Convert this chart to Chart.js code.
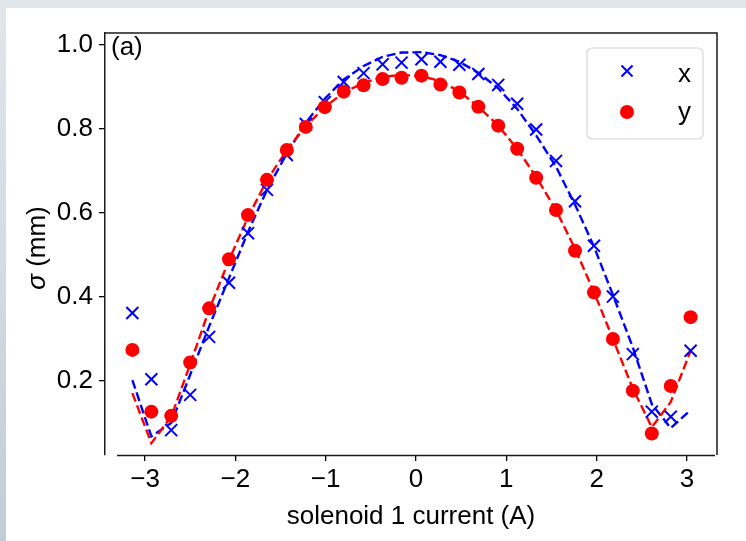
<!DOCTYPE html>
<html>
<head>
<meta charset="utf-8">
<script src="https://cdn.jsdelivr.net/npm/chart.js@4.4.1/dist/chart.umd.min.js"></script>
<style>
  html, body { margin: 0; padding: 0; width: 746px; height: 541px; overflow: hidden; }
  body { background: linear-gradient(to bottom, #e0e6ea 0%, #d3dbe1 50%, #c2cdd6 100%); }
  #panel { position: absolute; left: 6px; top: 8px; width: 740px; height: 533px; background: #ffffff; }
  canvas { display: block; }
</style>
</head>
<body>
<div id="panel"><canvas id="chart" width="740" height="533"></canvas></div>
<script>
// Solenoid 1 current scan (A)
const current = [-3.14, -2.93, -2.71, -2.50, -2.29, -2.07, -1.86, -1.65, -1.43, -1.22,
                 -1.01, -0.80, -0.58, -0.37, -0.16, 0.06, 0.27, 0.48, 0.69, 0.91,
                 1.12, 1.33, 1.55, 1.76, 1.97, 2.18, 2.40, 2.61, 2.82, 3.04];

// Measured beam size (mm)
const sigmaX = [0.362, 0.204, 0.083, 0.167, 0.305, 0.434, 0.552, 0.655, 0.738, 0.812,
                0.864, 0.912, 0.933, 0.954, 0.958, 0.966, 0.960, 0.953, 0.931, 0.905,
                0.860, 0.799, 0.724, 0.628, 0.522, 0.401, 0.264, 0.127, 0.115, 0.272];
const sigmaY = [0.274, 0.127, 0.117, 0.244, 0.373, 0.490, 0.595, 0.679, 0.750, 0.805,
                0.852, 0.889, 0.904, 0.919, 0.922, 0.927, 0.906, 0.887, 0.853, 0.808,
                0.753, 0.684, 0.607, 0.510, 0.411, 0.300, 0.177, 0.075, 0.188, 0.352];

// Model prediction at each current setting (mm)
const fitX = [0.202, 0.068, 0.100, 0.215, 0.330, 0.445, 0.555, 0.655, 0.742, 0.815,
              0.872, 0.918, 0.950, 0.972, 0.982, 0.983, 0.976, 0.960, 0.934, 0.897,
              0.848, 0.785, 0.710, 0.620, 0.520, 0.405, 0.280, 0.145, 0.088, 0.131];
const fitY = [0.171, 0.052, 0.115, 0.240, 0.370, 0.488, 0.590, 0.678, 0.750, 0.807,
              0.852, 0.887, 0.910, 0.924, 0.929, 0.926, 0.914, 0.889, 0.853, 0.808,
              0.753, 0.686, 0.607, 0.515, 0.412, 0.300, 0.182, 0.090, 0.150, 0.272];

const xTicks = [-3, -2, -1, 0, 1, 2, 3];
const yTicks = [0.2, 0.4, 0.6, 0.8, 1.0];

const BLUE = '#0000ff';
const RED = '#ff0000';
const FONT = "'Liberation Sans', Arial, Helvetica, sans-serif";

const pts = (xs, ys) => xs.map((x, i) => ({ x: x, y: ys[i] }));

// Frame, panel label, legend and y-axis title
const decorations = {
  id: 'decorations',
  afterDraw(chart) {
    const { ctx, chartArea: a, scales } = chart;
    const xs = scales.x;
    ctx.save();
    ctx.strokeStyle = '#1a1a1a';
    ctx.lineWidth = 1.5;
    ctx.beginPath();
    ctx.moveTo(a.left, a.top);
    ctx.lineTo(a.right, a.top);
    ctx.lineTo(a.right, a.bottom);
    ctx.stroke();
    ctx.beginPath();
    ctx.moveTo(xs.getPixelForValue(-3.31), a.bottom + 0.5);
    ctx.lineTo(xs.getPixelForValue(3.31), a.bottom + 0.5);
    ctx.stroke();

    // panel label
    ctx.fillStyle = '#000';
    ctx.font = '26px ' + FONT;
    ctx.textAlign = 'left';
    ctx.textBaseline = 'middle';
    ctx.fillText('(a)', a.left + 6, a.top + 15);

    // legend
    const lx = 581, ly = 40, lw = 116, lh = 91, r = 5;
    ctx.beginPath();
    ctx.moveTo(lx + r, ly);
    ctx.arcTo(lx + lw, ly, lx + lw, ly + lh, r);
    ctx.arcTo(lx + lw, ly + lh, lx, ly + lh, r);
    ctx.arcTo(lx, ly + lh, lx, ly, r);
    ctx.arcTo(lx, ly, lx + lw, ly, r);
    ctx.closePath();
    ctx.fillStyle = 'rgba(255,255,255,0.8)';
    ctx.fill();
    ctx.strokeStyle = '#d4d4d4';
    ctx.lineWidth = 1.2;
    ctx.stroke();

    ctx.strokeStyle = BLUE;
    ctx.lineWidth = 2;
    const mx = 621, my1 = 63, d = 5.5;
    ctx.beginPath();
    ctx.moveTo(mx - d, my1 - d); ctx.lineTo(mx + d, my1 + d);
    ctx.moveTo(mx - d, my1 + d); ctx.lineTo(mx + d, my1 - d);
    ctx.stroke();
    ctx.fillStyle = RED;
    ctx.beginPath();
    ctx.arc(mx, 104, 7, 0, Math.PI * 2);
    ctx.fill();

    ctx.fillStyle = '#000';
    ctx.textBaseline = 'alphabetic';
    ctx.fillText('x', 672, 74);
    ctx.fillText('y', 672, 112);

    // y-axis title: italic sigma followed by the unit
    ctx.translate(32, 240);
    ctx.rotate(-Math.PI / 2);
    const f1 = 'italic 26px ' + FONT, f2 = '26px ' + FONT;
    ctx.font = f1; const w1 = ctx.measureText('σ').width;
    ctx.font = f2; const w2 = ctx.measureText(' (mm)').width;
    const x0 = -(w1 + w2) / 2;
    ctx.textBaseline = 'middle';
    ctx.font = f1; ctx.fillText('σ', x0, 0);
    ctx.font = f2; ctx.fillText(' (mm)', x0 + w1, 0);
    ctx.restore();
  }
};

new Chart(document.getElementById('chart'), {
  type: 'line',
  data: {
    datasets: [
      { label: 'x fit', data: pts(current, fitX), borderColor: BLUE, borderWidth: 2.4,
        borderDash: [9, 4], pointRadius: 0, fill: false, tension: 0, order: 4 },
      { label: 'y fit', data: pts(current, fitY), borderColor: RED, borderWidth: 2.4,
        borderDash: [9, 4], pointRadius: 0, fill: false, tension: 0, order: 3 },
      { label: 'x', data: pts(current, sigmaX), showLine: false, pointStyle: 'crossRot',
        pointRadius: 8.5, pointBorderWidth: 2, pointBorderColor: BLUE,
        pointBackgroundColor: BLUE, order: 2 },
      { label: 'y', data: pts(current, sigmaY), showLine: false, pointStyle: 'circle',
        pointRadius: 7, pointBorderWidth: 0, pointBackgroundColor: RED,
        pointBorderColor: RED, order: 1 }
    ]
  },
  options: {
    responsive: false,
    animation: false,
    devicePixelRatio: 1,
    layout: { padding: { top: 25, right: 29, left: 0, bottom: 0 } },
    plugins: { legend: { display: false }, tooltip: { enabled: false } },
    scales: {
      x: {
        type: 'linear',
        min: -3.443, max: 3.332,
        afterBuildTicks: s => { s.ticks = xTicks.map(v => ({ value: v })); },
        afterFit: s => { s.height = 86; },
        ticks: {
          color: '#000', font: { family: FONT, size: 26, lineHeight: 1 }, padding: 6,
          maxRotation: 0, autoSkip: false,
          callback: v => (v < 0 ? '\u2212' + Math.abs(v) : String(v))
        },
        grid: { drawOnChartArea: false, drawTicks: true, tickLength: 6, color: '#000', lineWidth: 1.3 },
        border: { display: false },
        title: { display: true, text: 'solenoid 1 current (A)', color: '#000',
                 font: { family: FONT, size: 26 }, padding: { top: 0, bottom: 9 } }
      },
      y: {
        type: 'linear',
        min: 0.0238, max: 1.0286,
        afterBuildTicks: s => { s.ticks = yTicks.map(v => ({ value: v })); },
        afterFit: s => { s.width = 99; },
        ticks: { color: '#000', font: { family: FONT, size: 26 }, padding: 6,
                 callback: v => v.toFixed(1) },
        grid: { drawOnChartArea: false, drawTicks: true, tickLength: 6, color: '#000', lineWidth: 1.3 },
        border: { display: true, color: '#1a1a1a', width: 1.5 }
      }
    }
  },
  plugins: [decorations]
});
</script>
</body>
</html>
